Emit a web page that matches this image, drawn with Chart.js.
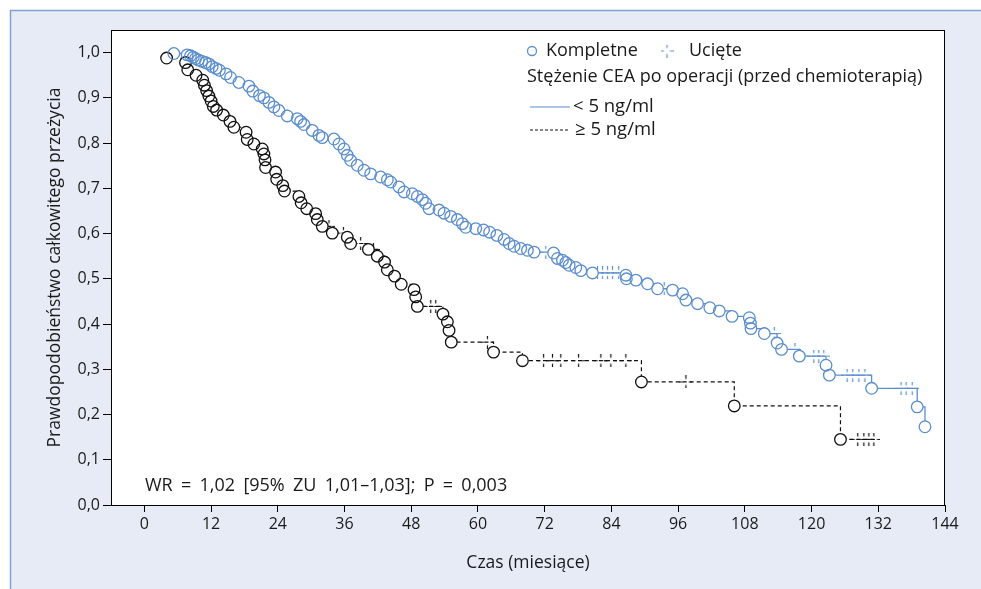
<!DOCTYPE html>
<html><head><meta charset="utf-8">
<script src="https://cdn.jsdelivr.net/npm/chart.js@4.4.1/dist/chart.umd.min.js"></script>
<style>
html,body{margin:0;padding:0;background:#fff;}
#wrap{position:relative;width:981px;height:589px;}
canvas{display:block;}
</style></head><body>
<div id="wrap"><canvas id="c" width="981" height="589"></canvas></div>
<script>
// ---- data ----
const xTicks = [0,12,24,36,48,60,72,84,96,108,120,132,144];
const yTicks = [0,0.1,0.2,0.3,0.4,0.5,0.6,0.7,0.8,0.9,1.0];

// CEA < 5 ng/ml : event times (months) and survival after each event
const lowEventT = [5.3,7.7,8.3,8.8,9.2,9.7,10.3,11.0,11.6,12.2,12.9,13.5,14.7,15.5,17.0,18.8,19.5,20.7,21.5,22.4,
  23.3,24.2,25.7,27.5,28.1,28.7,30.2,31.4,32.0,34.1,35.0,35.9,36.5,37.1,38.3,39.5,40.7,42.5,43.7,44.3,
  45.8,46.7,48.2,49.1,50.0,50.6,51.2,53.0,53.9,55.1,56.3,57.2,57.8,59.6,61.0,62.1,63.4,64.7,65.6,66.5,
  67.7,68.9,70.1,73.6,74.3,75.2,75.8,76.4,77.6,78.5,80.6,86.6,86.7,88.4,90.5,92.3,95.0,96.8,97.4,99.5,
  101.7,103.4,105.7,108.8,109.0,109.1,111.5,113.8,114.6,117.8,122.6,123.2,130.8,139.0,140.4];
const lowEventS = [0.998,0.995,0.993,0.990,0.987,0.984,0.981,0.978,0.975,0.969,0.965,0.961,0.953,0.945,0.934,0.926,0.915,0.905,0.900,0.890,
  0.880,0.872,0.860,0.854,0.848,0.841,0.828,0.817,0.812,0.809,0.798,0.787,0.773,0.762,0.751,0.740,0.732,0.725,0.719,0.714,
  0.703,0.692,0.688,0.682,0.675,0.667,0.655,0.652,0.645,0.638,0.631,0.622,0.614,0.611,0.608,0.603,0.596,0.587,0.578,0.572,
  0.567,0.563,0.559,0.557,0.545,0.541,0.536,0.530,0.525,0.518,0.513,0.508,0.500,0.497,0.489,0.478,0.475,0.467,0.453,0.445,
  0.436,0.429,0.417,0.414,0.402,0.390,0.379,0.358,0.344,0.329,0.309,0.287,0.258,0.217,0.173];
const lowCensorT = [72.2,81.5,82.4,83.3,84.2,85.3,93.5,113.3,117.0,120.4,121.3,122.2,126.4,127.4,128.5,129.6,136.1,137.0,138.1];

// CEA >= 5 ng/ml
const highEventT = [4.0,7.4,7.8,9.3,10.5,10.8,11.2,11.6,12.0,12.4,13.0,14.2,15.4,16.1,18.3,18.5,19.7,21.2,21.5,21.7,
  21.8,23.6,23.8,24.9,25.2,27.8,28.2,29.2,30.8,31.1,32.0,33.8,36.5,37.1,40.3,41.9,43.2,43.7,45.0,46.2,
  48.5,48.8,49.1,53.7,54.5,54.8,55.2,62.8,68.0,89.4,106.1,125.2];
const highEventS = [0.988,0.978,0.962,0.950,0.939,0.928,0.916,0.904,0.893,0.881,0.873,0.862,0.848,0.835,0.824,0.808,0.798,0.787,0.776,0.763,
  0.746,0.736,0.720,0.706,0.694,0.682,0.668,0.655,0.644,0.631,0.616,0.601,0.592,0.578,0.565,0.550,0.537,0.520,0.506,0.488,
  0.476,0.460,0.439,0.422,0.405,0.386,0.360,0.338,0.319,0.272,0.219,0.145];
const highCensorT = [33.2,35.8,38.9,41.2,51.5,52.4,61.7,71.8,73.4,74.9,78.1,82.1,83.9,86.6,97.4,128.3,129.4,130.3,131.2];

// ---- styles ----
const BLUE = '#5b8ecf';
const BLACK = '#111111';
const FONT = "'Open Sans', 'Noto Sans', sans-serif";

function km(eT, eS, cT){
  const items = eT.map((t,i)=>({x:t,y:eS[i],e:true})).concat(cT.map(t=>({x:t,e:false})));
  items.sort((a,b)=>a.x-b.x);
  let s = null; const line=[], ev=[], cens=[];
  for (const it of items){
    if (it.e){ s = it.y; line.push({x:it.x,y:s}); ev.push({x:it.x,y:s}); }
    else { line.push({x:it.x,y:s}); cens.push({x:it.x,y:s}); }
  }
  return {line, ev, cens};
}
const low = km(lowEventT, lowEventS, lowCensorT);
const high = km(highEventT, highEventS, highCensorT);

function crossImg(color){
  const c = document.createElement('canvas'); c.width = 13; c.height = 13;
  const g = c.getContext('2d'); g.strokeStyle = color; g.lineWidth = 1.2;
  g.beginPath();
  g.moveTo(6.5,0); g.lineTo(6.5,3.5); g.moveTo(6.5,9.5); g.lineTo(6.5,13);
  g.moveTo(0,6.5); g.lineTo(3.5,6.5); g.moveTo(9.5,6.5); g.lineTo(13,6.5);
  g.stroke();
  return c;
}
const crossBlue = crossImg(BLUE), crossBlack = crossImg(BLACK);

const R = 5.8;
const deco = {
  id:'deco',
  beforeDraw(chart){
    const {ctx, chartArea:a} = chart;
    ctx.save();
    ctx.fillStyle = '#ffffff'; ctx.fillRect(0,0,981,589);
    ctx.fillStyle = '#e6ebf5'; ctx.fillRect(10,10,971,579);
    ctx.strokeStyle = '#7fa1d2'; ctx.lineWidth = 1.5;
    ctx.beginPath(); ctx.moveTo(10.5,589); ctx.lineTo(10.5,10.5); ctx.lineTo(981,10.5); ctx.stroke();
    ctx.fillStyle = '#ffffff'; ctx.fillRect(a.left,a.top,a.right-a.left,a.bottom-a.top);
    ctx.restore();
  },
  afterDraw(chart){
    const {ctx, chartArea:a} = chart;
    ctx.save();
    ctx.strokeStyle = '#000'; ctx.lineWidth = 1;
    ctx.strokeRect(a.left+0.5, a.top+0.5, a.right-a.left-1, a.bottom-a.top);
    ctx.fillStyle = '#1a1a1a';
    ctx.textBaseline = 'middle'; ctx.textAlign = 'left';
    ctx.font = "18px " + FONT;
    // legend row 1
    ctx.strokeStyle = BLUE; ctx.lineWidth = 1.3;
    ctx.beginPath(); ctx.arc(532, 51, 4.5, 0, Math.PI*2); ctx.stroke();
    ctx.fillText('Kompletne', 546, 51);
    ctx.drawImage(crossBlue, 667-6.5, 51-6.5);
    ctx.fillText('Ucięte', 689, 51);
    ctx.fillText('Stężenie CEA po operacji (przed chemioterapią)', 527, 77);
    ctx.strokeStyle = BLUE; ctx.lineWidth = 1.2;
    ctx.beginPath(); ctx.moveTo(530,107); ctx.lineTo(570,107); ctx.stroke();
    ctx.font = "18.5px " + FONT;
    ctx.fillText('< 5 ng/ml', 573, 107);
    ctx.strokeStyle = BLACK; ctx.setLineDash([3,2]);
    ctx.beginPath(); ctx.moveTo(530,130); ctx.lineTo(570,130); ctx.stroke();
    ctx.setLineDash([]);
    ctx.fillText('≥ 5 ng/ml', 575, 130);
    ctx.font = "18px " + FONT;
    try { ctx.wordSpacing = '3.6px'; } catch(e) {}
    ctx.fillText('WR = 1,02 [95% ZU 1,01–1,03]; P = 0,003', 145, 486);
    ctx.restore();
  }
};

const ptOutline = (data,color) => ({data, showLine:false, pointStyle:'circle', pointRadius:R, pointHoverRadius:R,
  pointBorderWidth:1.3, pointBorderColor:color, pointBackgroundColor:'rgba(255,255,255,0)'});
const ptFill = (data) => ({data, showLine:false, pointStyle:'circle', pointRadius:R, pointHoverRadius:R,
  pointBorderWidth:0, pointBorderColor:'rgba(0,0,0,0)', pointBackgroundColor:'#ffffff'});
const ptCens = (data,img) => ({data, showLine:false, pointStyle:img, pointRadius:6, pointHoverRadius:6});

new Chart(document.getElementById('c'), {
  type:'scatter',
  data:{datasets:[
    ptOutline(low.ev, BLUE),
    ptOutline(high.ev, BLACK),
    ptFill(low.ev),
    ptFill(high.ev),
    ptCens(low.cens, crossBlue),
    ptCens(high.cens, crossBlack),
    {data:low.line, showLine:true, stepped:'before', borderColor:BLUE, borderWidth:1.3, pointRadius:0, fill:false},
    {data:high.line, showLine:true, stepped:'before', borderColor:BLACK, borderWidth:1.2, borderDash:[4,3], pointRadius:0, fill:false}
  ]},
  options:{
    responsive:false, animation:false, devicePixelRatio:1,
    layout:{padding:{left:0, right:36, top:30, bottom:0}},
    plugins:{legend:{display:false}, tooltip:{enabled:false}},
    events:[],
    scales:{
      x:{type:'linear', position:'bottom', min:-6, max:144,
        afterBuildTicks(s){ s.ticks = xTicks.map(v=>({value:v})); },
        afterFit(s){ s.height = 84; },
        ticks:{callback:v=>String(v), color:'#1a1a1a', font:{family:FONT, size:16}, padding:3, maxRotation:0, autoSkip:false},
        grid:{display:true, drawOnChartArea:false, drawTicks:true, tickLength:7, color:'#000', tickWidth:1},
        border:{display:true, color:'#000', width:1},
        title:{display:true, text:'Czas (miesiące)', color:'#1a1a1a', font:{family:FONT, size:17.5}, padding:{top:0,bottom:15}}
      },
      y:{type:'linear', min:0, max:1.05,
        afterBuildTicks(s){ s.ticks = yTicks.map(v=>({value:v})); },
        afterFit(s){ s.width = 111; },
        ticks:{callback:v=>v.toFixed(1).replace('.',','), color:'#1a1a1a', font:{family:FONT, size:16}, padding:3, autoSkip:false},
        grid:{display:true, drawOnChartArea:false, drawTicks:true, tickLength:8, color:'#000', tickWidth:1},
        border:{display:true, color:'#000', width:1},
        title:{display:true, text:'Prawdopodobieństwo całkowitego przeżycia', color:'#1a1a1a', font:{family:FONT, size:17.5}, padding:{top:45,bottom:0}}
      }
    }
  },
  plugins:[deco]
});
</script>
</body></html>
